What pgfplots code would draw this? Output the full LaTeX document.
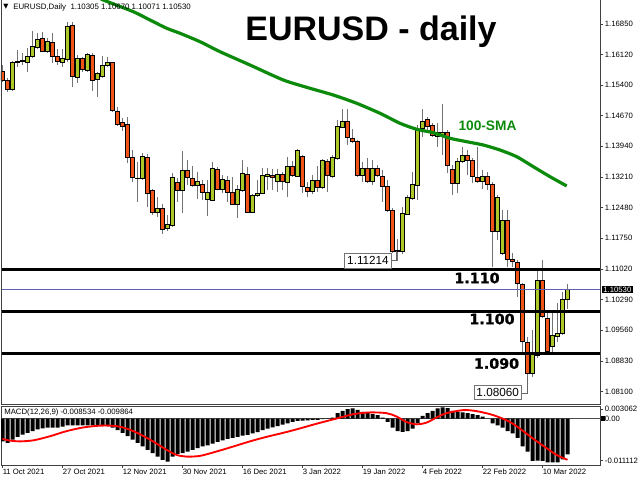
\documentclass[border=0pt]{standalone}
\usepackage{fontspec}
\setmainfont{Liberation Sans}
\newfontfamily\dejavu{DejaVu Sans}
\newfontfamily\heavy{DejaVu Sans}[FakeBold=1.3]
\usepackage{pgfplots}
\usepackage{pgfplotstable}
\pgfplotsset{compat=1.18}

\definecolor{bull}{RGB}{172,200,40}
\definecolor{bear}{RGB}{240,84,22}
\definecolor{smagreen}{RGB}{12,138,12}
\definecolor{pricebl}{RGB}{96,96,176}

% daily candles, x = trading day from 11 Oct 2021
\pgfplotstableread{
x o h l c
0 1.15715 1.15874 1.15469 1.15517
1 1.15517 1.15565 1.15239 1.15296
2 1.15296 1.15976 1.15262 1.15938
3 1.15938 1.16231 1.15834 1.15953
4 1.15962 1.16152 1.15874 1.15976
5 1.15945 1.16271 1.15715 1.16088
6 1.16072 1.16690 1.16034 1.16310
7 1.16295 1.16636 1.16248 1.16493
8 1.16510 1.16667 1.16176 1.16207
9 1.16191 1.16517 1.16160 1.16445
10 1.16405 1.16629 1.15915 1.16072
11 1.16088 1.16248 1.15874 1.15953
12 1.15938 1.16248 1.15834 1.16024
13 1.16010 1.16905 1.15953 1.16802
14 1.16819 1.16905 1.15343 1.15612
15 1.15572 1.16112 1.15453 1.16034
16 1.16024 1.16072 1.15715 1.15772
17 1.15755 1.16167 1.15715 1.16136
18 1.16112 1.16152 1.15262 1.15517
19 1.15534 1.15715 1.15120 1.15677
20 1.15596 1.16088 1.15565 1.15867
21 1.15857 1.16072 1.15834 1.15945
22 1.15929 1.15953 1.14763 1.14786
23 1.14763 1.14882 1.14422 1.14470
24 1.14501 1.14606 1.14310 1.14422
25 1.14463 1.14629 1.13549 1.13677
26 1.13677 1.13851 1.13097 1.13192
27 1.13170 1.13573 1.12621 1.13185
28 1.13178 1.13773 1.13137 1.13692
29 1.13677 1.13756 1.12487 1.12821
30 1.12882 1.12916 1.12304 1.12359
31 1.12359 1.12740 1.12249 1.12464
32 1.12464 1.12566 1.11852 1.11964
33 1.11988 1.12304 1.11930 1.12083
34 1.12059 1.13311 1.12026 1.13201
35 1.13082 1.13178 1.12621 1.12899
36 1.12882 1.13834 1.12359 1.13375
37 1.13358 1.13613 1.13018 1.13201
38 1.13178 1.13470 1.12963 1.13011
39 1.13018 1.13335 1.12678 1.13097
40 1.13042 1.13137 1.12661 1.12835
41 1.12678 1.13137 1.12280 1.12844
42 1.12661 1.13573 1.12644 1.13416
43 1.13392 1.13439 1.12899 1.12923
44 1.12916 1.13256 1.12821 1.13161
45 1.13137 1.13239 1.12621 1.12835
46 1.12844 1.13216 1.12542 1.12566
47 1.12566 1.13018 1.12226 1.12916
48 1.12899 1.13613 1.12859 1.13297
49 1.13280 1.13439 1.12345 1.12359
50 1.12368 1.12797 1.12345 1.12763
51 1.12773 1.13137 1.12740 1.12821
52 1.12821 1.13416 1.12797 1.13256
53 1.13232 1.13416 1.12899 1.13273
54 1.13239 1.13392 1.12899 1.13192
55 1.13113 1.13392 1.12859 1.13273
56 1.13273 1.13335 1.12899 1.13097
57 1.13073 1.13677 1.12740 1.13470
58 1.13470 1.13589 1.13216 1.13256
59 1.13232 1.13868 1.13216 1.13834
60 1.13708 1.13732 1.12835 1.12978
61 1.12963 1.13097 1.12740 1.12859
62 1.12859 1.13256 1.12797 1.13137
63 1.13120 1.13470 1.12859 1.12963
64 1.12963 1.13630 1.12916 1.13596
65 1.13573 1.13630 1.12859 1.13256
66 1.13216 1.13732 1.13192 1.13668
67 1.13654 1.14565 1.13613 1.14422
68 1.14391 1.14820 1.14368 1.14541
69 1.14541 1.14820 1.13970 1.14153
70 1.14130 1.14344 1.14011 1.14049
71 1.14065 1.14089 1.13216 1.13256
72 1.13256 1.13573 1.13097 1.13416
73 1.13416 1.13654 1.13059 1.13097
74 1.13097 1.13613 1.13018 1.13416
75 1.13416 1.13494 1.13216 1.13256
76 1.13216 1.13375 1.12621 1.12994
77 1.12978 1.13137 1.12383 1.12406
78 1.12406 1.12464 1.11393 1.11431
79 1.11452 1.11726 1.11214 1.11466
80 1.11431 1.12502 1.11376 1.12345
81 1.12328 1.12780 1.12304 1.12725
82 1.12702 1.13335 1.12661 1.13035
83 1.13018 1.14446 1.12661 1.14327
84 1.14368 1.14820 1.14168 1.14525
85 1.14589 1.14644 1.14303 1.14406
86 1.14429 1.14487 1.14153 1.14208
87 1.14168 1.14487 1.13930 1.14272
88 1.14208 1.14946 1.13732 1.14272
89 1.14272 1.14327 1.13297 1.13494
90 1.13392 1.13494 1.12780 1.13059
91 1.13059 1.13654 1.12821 1.13589
92 1.13573 1.13930 1.13535 1.13715
93 1.13732 1.13851 1.13256 1.13613
94 1.13596 1.13654 1.13059 1.13216
95 1.13201 1.13930 1.13073 1.13097
96 1.13097 1.13375 1.12916 1.13232
97 1.13216 1.13327 1.12899 1.13042
98 1.13042 1.13097 1.11074 1.11907
99 1.11907 1.12780 1.11709 1.12725
100 1.11393 1.12423 1.11352 1.12185
101 1.12185 1.12423 1.11074 1.11250
102 1.11250 1.11393 1.11074 1.11193
103 1.11169 1.11233 1.10360 1.10679
104 1.10662 1.10679 1.09051 1.09289
105 1.09265 1.09408 1.08060 1.08537
106 1.08537 1.09567 1.08456 1.09013
107 1.08972 1.10995 1.08894 1.10757
108 1.10757 1.11233 1.09846 1.09884
109 1.09846 1.10003 1.09013 1.09051
110 1.09170 1.10043 1.09051 1.09448
111 1.09424 1.10203 1.09289 1.09489
112 1.09489 1.10479 1.09448 1.10305
113 1.10305 1.10670 1.10071 1.10530
}\candles

\pgfplotstableread{
x p
19.5 1.17469
20.16 1.17421
26.16 1.17143
29.5 1.16945
32.84 1.16748
35.5 1.16629
39.5 1.16429
43.5 1.16191
49.5 1.15874
56.16 1.15517
61.5 1.15320
66.16 1.15160
70.84 1.14963
75.5 1.14725
79.5 1.14487
82.84 1.14344
86.16 1.14263
89.5 1.14130
92.84 1.14049
96.16 1.13970
99.5 1.13851
102.84 1.13692
106.16 1.13454
109.5 1.13216
112.84 1.12995
}\sma

\pgfplotstableread{
x m
0 -0.00543
1 -0.00582
2 -0.00501
3 -0.00435
4 -0.00379
5 -0.00337
6 -0.00298
7 -0.00257
8 -0.00232
9 -0.00215
10 -0.00215
11 -0.00215
12 -0.00191
13 -0.00159
14 -0.00159
15 -0.00159
16 -0.00159
17 -0.00159
18 -0.00159
19 -0.00159
20 -0.00159
21 -0.00176
22 -0.00215
23 -0.00274
24 -0.00337
25 -0.00420
26 -0.00501
27 -0.00582
28 -0.00665
29 -0.00745
30 -0.00826
31 -0.00909
32 -0.00990
33 -0.01031
34 -0.00909
35 -0.00843
36 -0.00826
37 -0.00787
38 -0.00745
39 -0.00704
40 -0.00665
41 -0.00640
42 -0.00599
43 -0.00557
44 -0.00518
45 -0.00484
46 -0.00459
47 -0.00435
48 -0.00403
49 -0.00386
50 -0.00354
51 -0.00323
52 -0.00274
53 -0.00240
54 -0.00208
55 -0.00176
56 -0.00142
57 -0.00110
58 -0.00078
59 -0.00054
60 -0.00044
61 -0.00037
62 -0.00029
63 -0.00029
64 -0.00012
65 -0.00005
66 0.00029
67 0.00134
68 0.00191
69 0.00232
70 0.00249
71 0.00215
72 0.00166
73 0.00134
74 0.00110
75 0.00086
76 0.00029
77 -0.00078
78 -0.00215
79 -0.00298
80 -0.00313
81 -0.00298
82 -0.00240
83 -0.00110
84 0.00068
85 0.00134
86 0.00191
87 0.00249
88 0.00274
89 0.00257
90 0.00191
91 0.00166
92 0.00152
93 0.00134
94 0.00110
95 0.00086
96 0.00054
97 0.00005
98 -0.00110
99 -0.00159
100 -0.00215
101 -0.00298
102 -0.00354
103 -0.00459
104 -0.00665
105 -0.00787
106 -0.01014
107 -0.01007
108 -0.01014
109 -0.01046
110 -0.01046
111 -0.01046
112 -0.00973
113 -0.00853
}\macd

\pgfplotstableread{
x s
0 -0.00484
1.5 -0.00525
3.5 -0.00543
6.2 -0.00518
9.5 -0.00420
12.8 -0.00298
16.2 -0.00208
19.5 -0.00166
21.5 -0.00166
23.5 -0.00191
26.2 -0.00298
29.5 -0.00501
32.8 -0.00745
34.8 -0.00868
36.8 -0.00909
39.5 -0.00892
42.8 -0.00787
46.2 -0.00665
49.5 -0.00543
52.8 -0.00435
56.2 -0.00337
59.5 -0.00232
62.8 -0.00120
66.8 0.00005
70.2 0.00110
73.5 0.00152
76.8 0.00134
78.8 0.00054
80.8 -0.00078
82.8 -0.00134
84.8 -0.00093
86.8 0.00029
88.8 0.00134
92.2 0.00208
94.8 0.00183
97.5 0.00110
99.5 0.00029
101.5 -0.00078
103.5 -0.00240
106.2 -0.00484
108.8 -0.00704
110.8 -0.00868
113 -0.00986
}\signal

\pgfplotsset{
  panel/.style={scale only axis, width=449.25pt, xmin=-0.3, xmax=119.5, anchor=south west},
  main/.style={panel, at={(0.75pt,57pt)}, height=303pt, ymin=1.07806, ymax=1.17421},
  ticklbl/.style={font=\fontsize{5.8}{6}\selectfont},
}

\begin{document}
\begin{tikzpicture}
\path[use as bounding box] (0,0) rectangle (480pt,360pt);

% price panel: wicks, frame ticks
\begin{axis}[main,
  axis line style={draw=none},
  xtick=\empty,
  ytick pos=right, yticklabel pos=right,
  tick align=outside, major tick length=2.5pt,
  tick style={black!75, line width=0.5pt},
  ytick={1.0810,1.0883,1.0956,1.1029,1.1102,1.1175,1.1248,1.1321,1.1394,1.1467,1.1540,1.1612,1.1685},
  yticklabels={1.08100,1.08830,1.09560,1.10290,1.11020,1.11750,1.12480,1.13210,1.13940,1.14670,1.15400,1.16120,1.16850},
  yticklabel style={ticklbl, anchor=west, inner sep=0pt, xshift=1pt},
]
\addplot[draw=none, mark=none, error bars/.cd, y dir=plus, y explicit, error mark=none,
  error bar style={draw=black!55, line width=0.75pt}]
  table[x=x, y=l, y error expr=\thisrow{h}-\thisrow{l}] {\candles};
\end{axis}

% candle bodies
\begin{axis}[main, hide axis, ybar stacked, bar width=3pt]
\addplot[draw=none, fill=none] table[x=x, y expr={min(\thisrow{o},\thisrow{c})}] {\candles};
\addplot[fill=bull, draw=black, line width=0.4pt] table[x=x, y expr={max(\thisrow{c}-\thisrow{o},0)}] {\candles};
\addplot[fill=bear, draw=black, line width=0.4pt] table[x=x, y expr={max(\thisrow{o}-\thisrow{c},0)}] {\candles};
\end{axis}

% levels and 100-SMA
\begin{axis}[main, hide axis]
\addplot[pricebl, line width=0.5pt] coordinates {(-5,1.1053) (125,1.1053)};
\addplot[black, line width=2.25pt] coordinates {(-5,1.110) (125,1.110)};
\addplot[black, line width=2.25pt] coordinates {(-5,1.100) (125,1.100)};
\addplot[black, line width=2.25pt] coordinates {(-5,1.090) (125,1.090)};
\addplot[smagreen, line width=2.4pt, smooth, tension=0.4] table[x=x, y=p] {\sma};
\end{axis}

% MACD panel
\begin{axis}[panel, at={(0.75pt,11.25pt)}, height=44.25pt,
  ymin=-0.011112, ymax=0.003062,
  axis line style={black!75, line width=0.75pt},
  xtick pos=bottom, ytick pos=right, yticklabel pos=right,
  tick align=outside, major tick length=2.5pt,
  tick style={black!75, line width=0.5pt},
  xtick={0,12,24,36,48,60,72,84,96,108},
  xticklabels={11 Oct 2021,27 Oct 2021,12 Nov 2021,30 Nov 2021,16 Dec 2021,3 Jan 2022,19 Jan 2022,4 Feb 2022,22 Feb 2022,10 Mar 2022},
  xticklabel style={ticklbl, anchor=north west, inner sep=0pt, yshift=-0.5pt},
  ytick={0.00232,0,-0.01007},
  yticklabels={0.003062,0.00,-0.011112},
  scaled y ticks=false,
  yticklabel style={ticklbl, anchor=west, inner sep=0pt, xshift=1pt},
]
\addplot[black!70, line width=0.6pt] coordinates {(-5,0) (125,0)};
\addplot[ybar, bar width=3pt, fill=black, draw=none] table[x=x, y=m] {\macd};
\addplot[red, line width=1.4pt, smooth, tension=0.5] table[x=x, y=s] {\signal};
\end{axis}

% annotations, in pixel units from the top-left corner
\begin{scope}[x=0.75pt, y=-0.75pt, yshift=360pt]
\draw[black!75, line width=0.75pt] (1,0) -- (1,404) -- (600,404) -- (600,0);
\node[anchor=west, inner sep=0pt] at (3,7) {\dejavu\fontsize{5}{6}\selectfont ▼};
\node[anchor=west, inner sep=0pt] at (13,7) {\fontsize{5.9}{6}\selectfont EURUSD,Daily\ \ 1.10305 1.10670 1.10071 1.10530};
\node[anchor=west, inner sep=0pt] at (4,412) {\fontsize{5.85}{6}\selectfont MACD(12,26,9) -0.008534 -0.009864};
\node[inner sep=0pt] at (371,32) {\fontsize{25.5}{26}\selectfont\bfseries EURUSD - daily};
\node[inner sep=0pt, text=smagreen] at (487.5,126) {\fontsize{10.3}{11}\selectfont\bfseries 100-SMA};
\node[inner sep=0pt] at (477,278) {\heavy\bfseries\fontsize{10.7}{11}\selectfont 1.110};
\node[inner sep=0pt] at (492,319) {\heavy\bfseries\fontsize{10.7}{11}\selectfont 1.100};
\node[inner sep=0pt] at (496.5,363.5) {\heavy\bfseries\fontsize{10.7}{11}\selectfont 1.090};
\draw[black!60, line width=0.6pt] (391.7,260.8) -- (396.7,260.8) -- (396.7,250.7);
\node[draw=black!55, fill=white, line width=0.6pt, minimum width=35.2pt, minimum height=11pt, inner sep=0pt] at (368,260.8) {\fontsize{8.8}{9}\selectfont 1.11214};
\draw[black!60, line width=0.6pt] (521,393) -- (527.3,393) -- (527.3,376.7);
\node[draw=black!55, fill=white, line width=0.6pt, minimum width=35.2pt, minimum height=11pt, inner sep=0pt] at (497.7,392.5) {\fontsize{8.8}{9}\selectfont 1.08060};
\node[anchor=west, fill=black, text=white, inner xsep=1.2pt, inner ysep=0.5pt] at (601.5,289.6) {\fontsize{5.8}{6}\selectfont 1.10530};
\fill[black] (601,416) rectangle (605,421);
\end{scope}
\end{tikzpicture}
\end{document}
